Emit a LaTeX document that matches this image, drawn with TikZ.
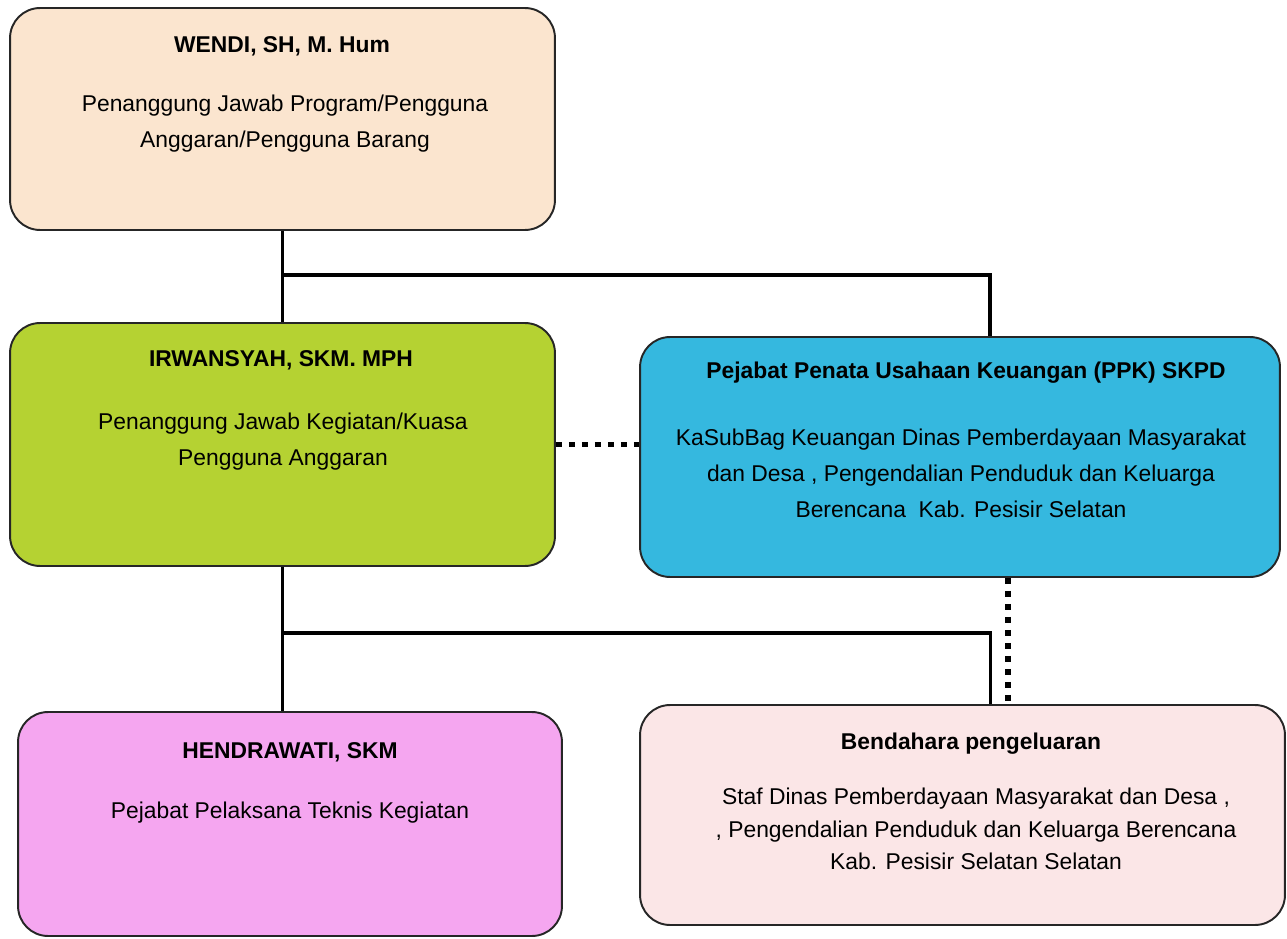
\documentclass[tikz,border=0pt]{standalone}
\usepackage{fontspec}
\setmainfont{Liberation Sans}
\definecolor{boxpeach}{RGB}{251,229,207}
\definecolor{boxgreen}{RGB}{181,210,50}
\definecolor{boxblue}{RGB}{53,184,223}
\definecolor{boxpink}{RGB}{245,166,240}
\definecolor{boxrose}{RGB}{251,230,231}
\usepackage{tikz}
\usetikzlibrary{positioning, calc}

\begin{document}
\begin{tikzpicture}[x=0.02cm, y=-0.02cm,
  box/.style={draw=black!85, line width=1.1pt, rounded corners=0.6cm},
  title/.style={font=\fontsize{13}{16}\selectfont\bfseries},
  body/.style={font=\fontsize{13}{20.5}\selectfont, align=center},
  link/.style={line width=2.2pt},
  dots/.style={line width=3.4pt, dash pattern=on 3.4pt off 4pt}]
  \useasboundingbox (0,0) rectangle (1287,939);

  % Pengguna Anggaran
  \node[box, fill=boxpeach, minimum width=10.9cm, minimum height=4.44cm] (wendi) at (282.5,119) {};
  \node[title] (wenditt) at (282,46) {WENDI, SH, M. Hum};
  \node[body] (wendibd) at (285,124) {Penanggung Jawab Program/Pengguna\\Anggaran/Pengguna Barang};

  % Kuasa Pengguna Anggaran
  \node[box, fill=boxgreen, minimum width=10.9cm, minimum height=4.86cm] (irwan) at (282.5,444.5) {};
  \node[title] (irwantt) at (281,360) {IRWANSYAH, SKM. MPH};
  \node[body] (irwanbd) at (283,442) {Penanggung Jawab Kegiatan/Kuasa\\Pengguna Anggaran};

  % PPK SKPD
  \node[box, fill=boxblue, minimum width=12.8cm, minimum height=4.8cm] (ppk) at (960,457) {};
  \node[title] (ppktt) at (966,373) {Pejabat Penata Usahaan Keuangan (PPK) SKPD};
  \node[body] (ppkbd) at (961,473) {KaSubBag Keuangan Dinas Pemberdayaan Masyarakat\\dan Desa , Pengendalian Penduduk dan Keluarga\\Berencana\ \ Kab. Pesisir Selatan};

  % PPTK
  \node[box, fill=boxpink, minimum width=10.88cm, minimum height=4.48cm] (hendra) at (290,824) {};
  \node[title] (hendratt) at (290,752) {HENDRAWATI, SKM};
  \node[body] (hendrabd) at (290,813) {Pejabat Pelaksana Teknis Kegiatan};

  % Bendahara
  \node[box, fill=boxrose, minimum width=12.9cm, minimum height=4.4cm] (benda) at (962.5,815) {};
  \node[title] (bendatt) at (971,744) {Bendahara pengeluaran};
  \node[body, font=\fontsize{13}{18.5}\selectfont] (bendabd) at (976,829) {Staf Dinas Pemberdayaan Masyarakat dan Desa ,\\, Pengendalian Penduduk dan Keluarga Berencana\\Kab. Pesisir Selatan Selatan};

  % garis komando
  \draw[link] (wendi.south) -- (irwan.north);
  \coordinate (cab1) at ($(wendi.south)!0.48!(irwan.north)$);
  \draw[link] (cab1) -| ([xshift=0.6cm]ppk.north);
  \draw[link] (irwan.south) -- (irwan.south |- hendra.north);
  \coordinate (cab2) at ($(irwan.south)!0.46!(irwan.south |- hendra.north)$);
  \draw[link] (cab2) -| ([xshift=0.56cm]benda.north);

  % garis koordinasi
  \draw[dots] (irwan.east) -- (irwan.east -| ppk.west);
  \draw[dots] ([xshift=0.96cm]ppk.south) -- ([xshift=0.96cm]ppk.south |- benda.north);
\end{tikzpicture}
\end{document}
